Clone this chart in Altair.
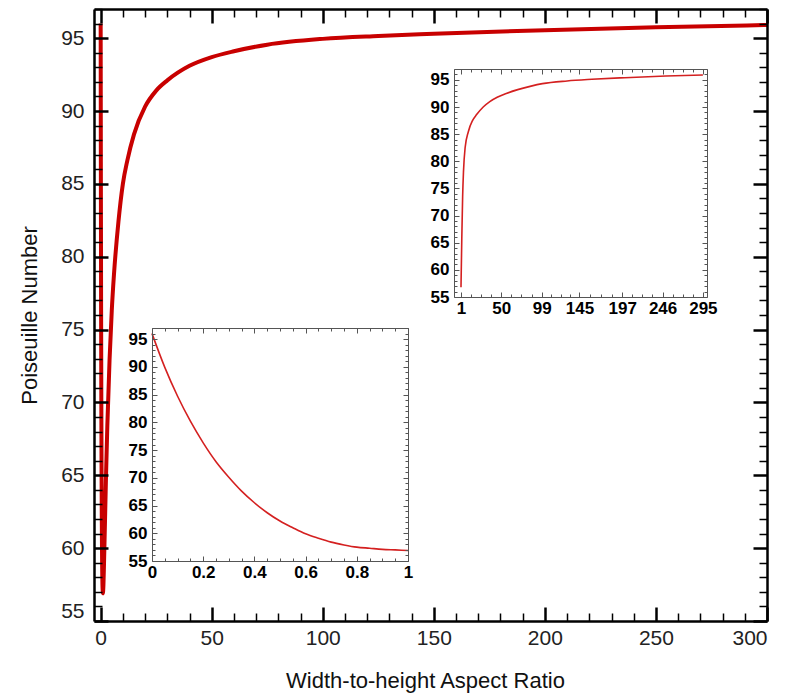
import altair as alt
import pandas as pd

# ---------------- data ----------------
# main curve: Poiseuille number vs width-to-height aspect ratio
main_ar = [0, 0.1, 0.2, 0.3, 0.4, 0.5, 0.6, 0.7, 0.8, 0.9, 1, 1.25, 1.5, 2, 2.5, 3, 4,
           5, 6, 8, 10, 12, 15, 20, 25, 30, 40, 50, 60, 75, 100, 125, 150, 200, 250, 300]
main_po = [96.0, 84.7, 76.3, 70.1, 65.5, 62.2, 59.9, 58.4, 57.5, 57.1, 56.9, 57.5, 58.9,
           62.2, 65.5, 68.4, 72.9, 76.3, 78.8, 82.4, 85.0, 86.6, 88.4, 90.3, 91.4, 92.1,
           93.1, 93.7, 94.1, 94.55, 94.95, 95.15, 95.3, 95.55, 95.75, 95.9]

# top-right inset
insA_ar = [1, 2, 3, 4, 6, 10, 15, 20, 28, 36, 45, 56, 70, 85, 100, 130, 160, 200, 250, 295]
insA_po = [56.8, 66.0, 73.5, 78.0, 82.5, 85.5, 87.5, 88.6, 90.0, 91.0, 91.8, 92.5, 93.2,
           93.8, 94.3, 94.8, 95.1, 95.4, 95.7, 95.9]

# bottom-left inset
insB_ar = [0, 0.05, 0.1, 0.15, 0.2, 0.25, 0.3, 0.35, 0.4, 0.45, 0.5, 0.55, 0.6, 0.65,
           0.7, 0.75, 0.8, 0.85, 0.9, 0.95, 1.0]
insB_po = [96.0, 89.9, 84.7, 80.2, 76.3, 72.9, 70.1, 67.6, 65.5, 63.7, 62.2, 61.0, 59.9,
           59.1, 58.4, 57.9, 57.5, 57.3, 57.1, 57.0, 56.9]

# tick labels
main_x_labels = [0, 50, 100, 150, 200, 250, 300]
main_y_labels = [55, 60, 65, 70, 75, 80, 85, 90, 95]
insA_x_labels = [1, 50, 99, 145, 197, 246, 295]
insA_y_labels = [55, 60, 65, 70, 75, 80, 85, 90, 95]
insB_x_labels = [0, 0.2, 0.4, 0.6, 0.8, 1]
insB_y_labels = [55, 60, 65, 70, 75, 80, 85, 90, 95]

X_TITLE = "Width-to-height Aspect Ratio"
Y_TITLE = "Poiseuille Number"

# ---------------- layout ----------------
W, H = 673, 612
FONT = "Liberation Sans"


def minors(majors, n):
    out = []
    for a, b in zip(majors[:-1], majors[1:]):
        out += [round(a + (b - a) * k / (n + 1), 4) for k in range(1, n + 1)]
    return out


def panel(df, xdom, ydom, box, xlab, ylab, xmin, ymin, sty):
    L, R, T, B = box
    xs = alt.Scale(domain=xdom, range=[L, R], nice=False, zero=False)
    ys = alt.Scale(domain=ydom, range=[B, T], nice=False, zero=False)

    lab = dict(ticks=False, tickSize=0, grid=False, labelFont=FONT,
               labelFontSize=sty["lfs"], labelFontWeight=sty["lfw"],
               labelColor=sty["lcol"], labelFlush=sty["flush"], labelOverlap=False,
               labelBound=False, domain=True, domainColor=sty["fcol"],
               domainWidth=sty["fw"], zindex=2)
    xa_lab = alt.Axis(orient="bottom", offset=B - H, values=xlab, format=".4~g",
                      labelPadding=sty["xpad"], **lab, **sty.get("xtitle", {"title": None}))
    ya_lab = alt.Axis(orient="left", offset=-L, values=ylab, format=".4~g",
                      labelPadding=sty["ypad"], **lab, **sty.get("ytitle", {"title": None}))

    def tk(orient, offset, vals, size, width, domain=False):
        return alt.Axis(orient=orient, offset=offset, values=vals, labels=False,
                        grid=False, title=None, ticks=True, tickColor=sty["fcol"],
                        tickSize=size, tickWidth=width, domain=domain,
                        domainColor=sty["fcol"], domainWidth=sty["fw"], zindex=2)

    big, small, bw, sw = sty["big"], sty["small"], sty["bw"], sty["sw"]
    # (x axis, y axis) pairs with ticks pointing into the box on every side
    pairs = [
        (tk("top", -B, xlab, big, bw), tk("right", L - W, ylab, big, bw)),
        (tk("top", -B, xmin, small, sw), tk("right", L - W, ymin, small, sw)),
        (tk("bottom", T - H, xlab, big, bw, True), tk("left", -R, ylab, big, bw, True)),
        (tk("bottom", T - H, xmin, small, sw), tk("left", -R, ymin, small, sw)),
    ]

    base = alt.Chart(df)
    layers = []
    if sty.get("bg"):
        bg = pd.DataFrame({"x0": [xdom[0]], "x1": [xdom[1]], "y0": [ydom[0]], "y1": [ydom[1]]})
        layers.append(alt.Chart(bg).mark_rect(fill="white").encode(
            x=alt.X("x0:Q", scale=xs, axis=None), x2="x1",
            y=alt.Y("y0:Q", scale=ys, axis=None), y2="y1"))
    layers.append(base.mark_line(color=sty["lc"], strokeWidth=sty["lw"],
                                 interpolate="monotone").encode(
        x=alt.X("x:Q", scale=xs, axis=xa_lab), y=alt.Y("y:Q", scale=ys, axis=ya_lab)))
    for xa, ya in pairs:
        layers.append(base.mark_line(strokeOpacity=0).encode(
            x=alt.X("x:Q", scale=xs, axis=xa), y=alt.Y("y:Q", scale=ys, axis=ya)))
    return alt.layer(*layers).resolve_axis(x="independent", y="independent")


main_df = pd.DataFrame({"x": main_ar, "y": main_po})
insA_df = pd.DataFrame({"x": insA_ar, "y": insA_po})
insB_df = pd.DataFrame({"x": insB_ar, "y": insB_po})

y_minor = [v for v in range(55, 98) if v % 5 != 0]

main_sty = dict(lfs=21, lfw="normal", lcol="#222222", flush=True, fcol="black", fw=2.5,
                xpad=6, ypad=10, big=14, small=8, bw=2.5, sw=1.5, lc="#c80000", lw=4,
                xtitle=dict(title=X_TITLE, titleFont=FONT, titleFontSize=22,
                            titleFontWeight="normal", titleColor="#111111",
                            titleBaseline="alphabetic", titleY=66, titleX=331),
                ytitle=dict(title=Y_TITLE, titleFont=FONT, titleFontSize=22,
                            titleFontWeight="normal", titleColor="#111111",
                            titleBaseline="alphabetic", titleAngle=270, titleX=-58,
                            titleY=H / 2))
ins_sty = dict(lfs=17, lfw="bold", lcol="black", flush=False, fcol="#555555", fw=1,
               xpad=3, ypad=5, big=5, small=3, bw=1, sw=1, lc="#d42020", lw=1.6, bg=True)

main_panel = panel(main_df, [-3, 300], [55, 97], (0, W, 0, H),
                   main_x_labels, main_y_labels, minors(main_x_labels, 4), y_minor, main_sty)
insA_panel = panel(insA_df, [-7.5, 300], [55, 97], (360, 613, 60, 288),
                   insA_x_labels, insA_y_labels, minors(insA_x_labels, 3), y_minor, ins_sty)
insB_panel = panel(insB_df, [0, 1], [55, 97], (58, 314, 319, 552),
                   insB_x_labels, insB_y_labels, minors(insB_x_labels, 3), y_minor, ins_sty)

chart = alt.layer(main_panel, insA_panel, insB_panel).resolve_scale(
    x="independent", y="independent"
).properties(
    width=W, height=H,
    autosize=alt.AutoSizeParams(type="none"),
    padding={"left": 86, "top": 1, "right": 13, "bottom": 72},
    background="white",
).configure_view(stroke=None)

chart.save("out.html", embed_options={"renderer": "svg", "actions": False})
